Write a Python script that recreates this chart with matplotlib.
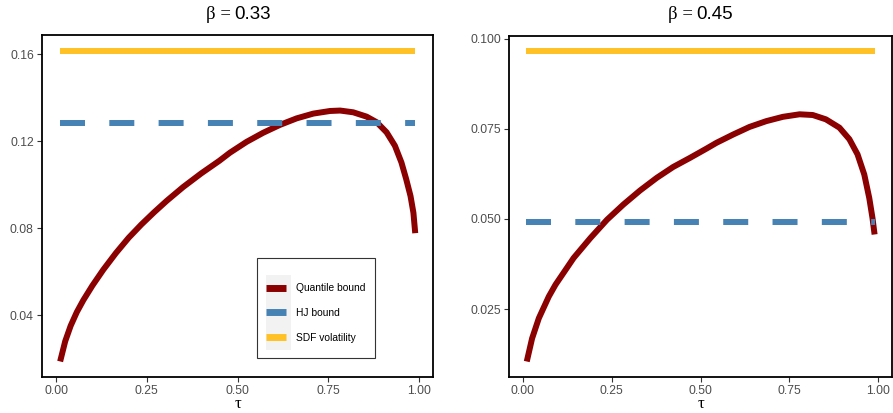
import matplotlib
matplotlib.use("Agg")
import matplotlib.pyplot as plt
from matplotlib.lines import Line2D
from matplotlib.patches import Rectangle

plt.rcParams["font.family"] = ["Liberation Sans", "DejaVu Sans"]

# values
tau_a = [0.011, 0.025, 0.04, 0.057, 0.075, 0.10, 0.13, 0.165, 0.20, 0.235, 0.27,
         0.305, 0.35, 0.40, 0.45, 0.479, 0.525, 0.571, 0.617, 0.663, 0.709, 0.755,
         0.783, 0.819, 0.856, 0.884, 0.911, 0.934, 0.952, 0.965, 0.977, 0.985, 0.99]
quant_a = [0.0188, 0.0281, 0.0352, 0.0415, 0.0470, 0.0537, 0.0610, 0.0687, 0.0757,
           0.0818, 0.0874, 0.0927, 0.0990, 0.1053, 0.1111, 0.1148, 0.1198, 0.1240,
           0.1276, 0.1306, 0.1328, 0.1340, 0.1342, 0.1334, 0.1314, 0.1288, 0.1242,
           0.1180, 0.1103, 0.1027, 0.0949, 0.0872, 0.0778]
hj_a = 0.1283
sdf_a = 0.1618

tau_b = [0.011, 0.026, 0.045, 0.073, 0.092, 0.143, 0.19, 0.237, 0.283, 0.33, 0.377,
         0.423, 0.47, 0.517, 0.545, 0.592, 0.638, 0.685, 0.732, 0.779, 0.816, 0.853,
         0.891, 0.919, 0.942, 0.961, 0.975, 0.984, 0.99]
quant_b = [0.0105, 0.0169, 0.0225, 0.0285, 0.0318, 0.0392, 0.0447, 0.0498, 0.0540,
           0.0579, 0.0614, 0.0644, 0.0669, 0.0695, 0.0711, 0.0734, 0.0755, 0.0771,
           0.0783, 0.0790, 0.0788, 0.0776, 0.0753, 0.0721, 0.0679, 0.0623, 0.0558,
           0.0503, 0.0457]
hj_b = 0.0492
sdf_b = 0.0964

betas = ["0.33", "0.45"]
yticks_a = [0.04, 0.08, 0.12, 0.16]
yticks_b = [0.025, 0.050, 0.075, 0.100]
xticks = [0.0, 0.25, 0.5, 0.75, 1.0]
labels = ["Quantile bound", "HJ bound", "SDF volatility"]

red = "#8B0000"
blue = "#4682B4"
yellow = "#FFC125"
lw = 4.3

panels = [(tau_a, quant_a, hj_a, sdf_a, yticks_a, "{:.2f}"),
          (tau_b, quant_b, hj_b, sdf_b, yticks_b, "{:.3f}")]

fig = plt.figure(figsize=(8.93, 4.13), dpi=100)
W, H = 893, 413
boxes = [[42 / W, 1 - 377 / H, 391 / W, 342 / H],
         [509 / W, 1 - 377 / H, 383 / W, 341 / H]]
# pixel x where the number of each title starts, and x-label centres
title_x = [234, 696]
xlab_x = [238, 701]

for i, (tau, q, hj, sdf, yt, fmt) in enumerate(panels):
    ax = fig.add_axes(boxes[i])
    ax.plot(tau, q, color=red, lw=lw, solid_capstyle="butt", solid_joinstyle="round")
    ax.plot([0.01, 0.99], [hj, hj], color=blue, lw=lw,
            linestyle=(0, (18 / lw, 17.5 / lw)), dash_capstyle="butt")
    ax.plot([0.01, 0.99], [sdf, sdf], color=yellow, lw=lw, solid_capstyle="butt")

    lo = min(q + [hj, sdf])
    hi = max(q + [hj, sdf])
    pad = (hi - lo) * 0.05
    ax.set_ylim(lo - pad, hi + pad)
    ax.set_xlim(0.01 - 0.049, 0.99 + 0.049)

    ax.set_xticks(xticks)
    ax.set_xticklabels(["{:.2f}".format(t) for t in xticks])
    ax.set_yticks(yt)
    ax.set_yticklabels([fmt.format(t) for t in yt])
    ax.tick_params(length=3.7, width=0.8, color="#333333", labelcolor="#4D4D4D",
                   labelsize=8.8, pad=2.2)
    for s in ax.spines.values():
        s.set_linewidth(1.3)
        s.set_color("black")

    # title: beta in a serif face, the number in sans
    fig.text((title_x[i] - 3) / W, (H - 19) / H, "β =", family="Liberation Serif",
             fontsize=13.5, ha="right", va="baseline")
    fig.text(title_x[i] / W, (H - 19) / H, betas[i], fontsize=13.5,
             ha="left", va="baseline")
    fig.text(xlab_x[i] / W, 0.5 / H, "τ", family="Liberation Serif",
             fontsize=12, ha="center", va="bottom")

    if i == 0:
        # legend frame and grey key column
        ax.add_patch(Rectangle((0.55, 0.0556), 0.302, 0.2924, transform=ax.transAxes,
                               facecolor="white", edgecolor="#333333", lw=0.8, zorder=4))
        ax.add_patch(Rectangle((0.573, 0.079), 0.064, 0.219, transform=ax.transAxes,
                               facecolor="#F2F2F2", edgecolor="none", zorder=4.5))
        handles = [Line2D([], [], color=c, lw=5, solid_capstyle="butt")
                   for c in (red, blue, yellow)]
        leg = ax.legend(handles, labels, loc="center", bbox_to_anchor=(0.70, 0.187),
                        frameon=False, fontsize=7.4, handlelength=1.95,
                        handletextpad=1.05, labelspacing=1.45, borderpad=0)
        leg.set_zorder(6)

fig.savefig("out.png", dpi=100)
